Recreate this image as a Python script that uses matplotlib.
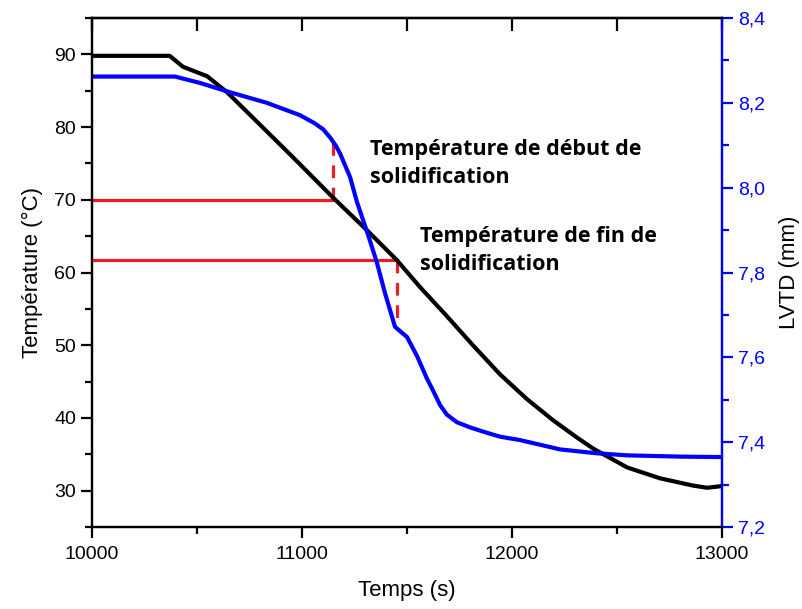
import numpy as np
import matplotlib
matplotlib.use("Agg")
import matplotlib.pyplot as plt
from matplotlib.ticker import MultipleLocator, FuncFormatter

### data ###
t_temp = [10000, 10370, 10433, 10548, 10643, 10752, 10910, 10990, 11148, 11310,
          11452, 11562, 11690, 11814, 11943, 12071, 12195, 12310, 12386, 12548,
          12705, 12862, 12929, 12990, 13000]
temp = [89.8, 89.8, 88.3, 87.0, 84.8, 81.7, 77.2, 74.9, 70.3, 65.8,
        61.7, 58.0, 54.0, 50.0, 46.0, 42.6, 39.7, 37.3, 35.8, 33.2,
        31.7, 30.7, 30.4, 30.6, 30.7]

t_lvtd = [10000, 10395, 10514, 10657, 10833, 10990, 11060, 11100, 11133, 11160,
          11181, 11229, 11262, 11314, 11357, 11395, 11443, 11500, 11548, 11595,
          11624, 11657, 11690, 11738, 11800, 11862, 11943, 12038, 12229, 12400,
          12548, 12800, 13000]
lvtd = [8.262, 8.262, 8.247, 8.225, 8.200, 8.171, 8.152, 8.138, 8.119, 8.100,
        8.081, 8.025, 7.966, 7.890, 7.823, 7.752, 7.672, 7.648, 7.603, 7.550,
        7.522, 7.488, 7.465, 7.447, 7.435, 7.425, 7.413, 7.405, 7.383, 7.374,
        7.369, 7.366, 7.365]

# start / end of solidification markers (time, temperature)
t_debut, T_debut, T_debut_top = 11148, 70.0, 78.3
t_fin, T_fin, T_fin_bot = 11452, 61.7, 52.8

labels = ["Température de début de\nsolidification",
          "Température de fin de\nsolidification"]

### plot ###
plt.rcParams['font.family'] = ['Liberation Sans', 'DejaVu Sans']

fig = plt.figure(figsize=(8.02, 6.09), dpi=100)
ax = fig.add_axes([0.1147, 0.1346, 0.7855, 0.8358])
ax2 = ax.twinx()

red = '#ec1c24'
ax.plot([10000, t_debut], [T_debut, T_debut], color=red, lw=2.3, zorder=2)
ax.plot([t_debut, t_debut], [T_debut, T_debut_top], color=red, lw=2.3,
        ls=(0, (4, 3)), zorder=2)
ax.plot([10000, t_fin], [T_fin, T_fin], color=red, lw=2.3, zorder=2)
ax.plot([t_fin, t_fin], [T_fin, T_fin_bot], color=red, lw=2.3,
        ls=(0, (4, 3)), zorder=2)
ax.plot(t_temp, temp, color='black', lw=3, zorder=3, solid_joinstyle='round')

ax2.plot(t_lvtd, lvtd, color='#0000ff', lw=3, solid_joinstyle='round')

ax.set_xlim(10000, 13000)
ax.set_ylim(25, 95)
ax2.set_ylim(7.2, 8.4)

ax.xaxis.set_major_locator(MultipleLocator(1000))
ax.xaxis.set_minor_locator(MultipleLocator(500))
ax.yaxis.set_minor_locator(MultipleLocator(5))
ax.set_yticks([30, 40, 50, 60, 70, 80, 90])
ax2.yaxis.set_major_locator(MultipleLocator(0.2))
ax2.yaxis.set_minor_locator(MultipleLocator(0.1))
ax2.yaxis.set_major_formatter(FuncFormatter(lambda v, p: ("%.1f" % v).replace('.', ',')))

for a in (ax, ax2):
    for s in a.spines.values():
        s.set_linewidth(1.6)
ax.tick_params(axis='both', which='major', labelsize=14, width=1.6, length=8,
               direction='out', colors='black')
ax.tick_params(axis='both', which='minor', width=1.6, length=5, direction='out')
ax.tick_params(axis='x', pad=6)

ax2.spines['right'].set_color('#0000ff')
ax2.tick_params(axis='y', which='major', labelsize=14, width=1.6, length=8,
                colors='#0000ff', direction='out')
ax2.tick_params(axis='y', which='minor', width=1.6, length=5,
                colors='#0000ff', direction='out')

ax.set_xlabel('Temps (s)', fontsize=16, labelpad=12)
ax.set_ylabel('Température (°C)', fontsize=16, labelpad=8)
ax2.set_ylabel('LVTD (mm)', fontsize=16, labelpad=10)

# top axis ticks pointing inward
secx = ax.secondary_xaxis('top')
secx.xaxis.set_major_locator(MultipleLocator(500))
secx.tick_params(axis='x', which='major', direction='in', length=9, width=1.6,
                 labelsize=0, labeltop=False)
secx.spines['top'].set_linewidth(1.6)

ax.text(11324, 72.3, labels[0], fontsize=15.5, fontweight='bold',
        family=['Open Sans', 'DejaVu Sans'], ha='left', va='baseline',
        linespacing=1.43)
ax.text(11562, 60.3, labels[1], fontsize=15.5, fontweight='bold',
        family=['Open Sans', 'DejaVu Sans'], ha='left', va='baseline',
        linespacing=1.43)

fig.savefig('out.png', dpi=100)
